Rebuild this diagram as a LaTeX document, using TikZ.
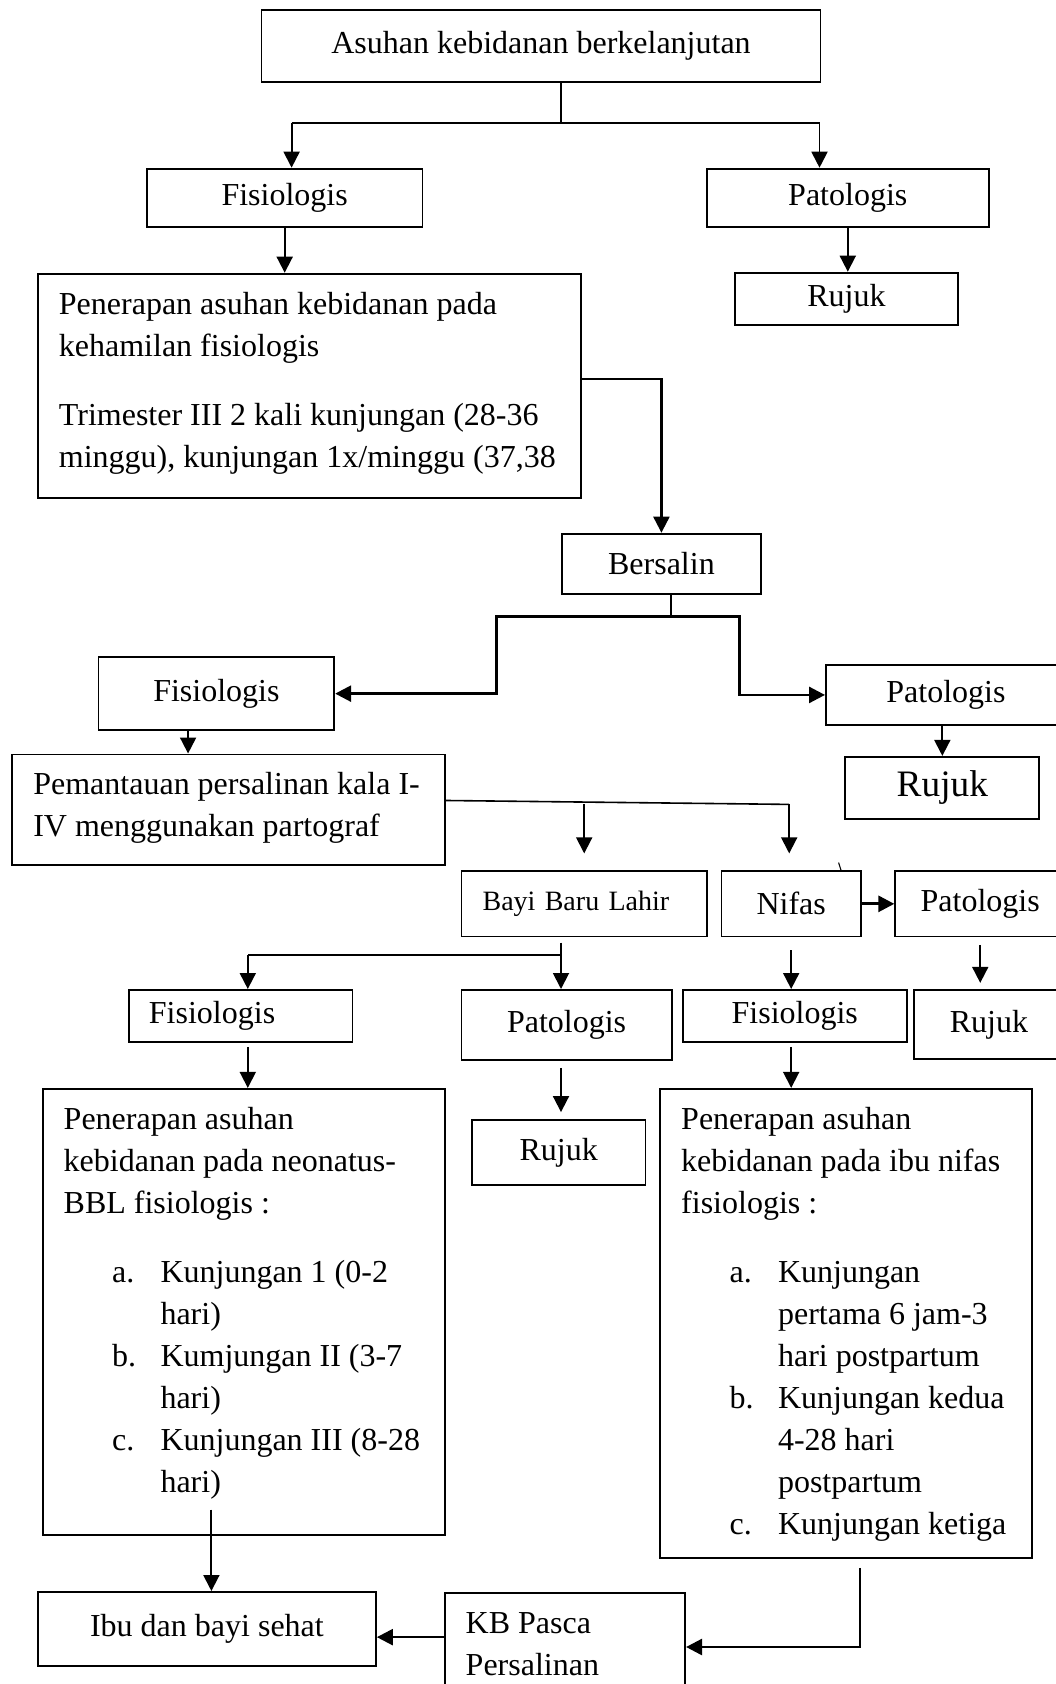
\documentclass[tikz,border=0pt]{standalone}
\usepackage{fontspec}
\setmainfont{Liberation Serif}
\usepackage{tikz}
\usetikzlibrary{
    arrows.meta,
    positioning,
    calc
}
\newlength{\pxu}
\setlength{\pxu}{0.375pt}
\newcommand{\boxbody}[3]{\parbox[c][#1\pxu][t]{#2\pxu}{\raggedright\leftskip=21\pxu\parskip=0pt\vspace*{4.2pt}\strut #3}}
\newcommand{\kitem}[1]{\hspace*{18.15pt}\makebox[18.15pt][l]{#1}}
\newcommand{\kcont}{\hspace*{36.3pt}}
\tikzset{
    sbox/.style={
        rectangle, draw=black, line width=0.7pt, fill=white,
        anchor=north west, inner sep=0pt,
        font=\fontsize{12}{15.7}\selectfont
    },
    bsize/.style 2 args={minimum width=#1*0.375pt, minimum height=#2*0.375pt},
    sline/.style={line width=0.7pt},
    sarr/.style={-{Triangle[length=6pt, width=6pt]}, line width=0.7pt},
}

\begin{document}
\begin{tikzpicture}[x=0.375pt, y=-0.375pt]

    \useasboundingbox (0,0) rectangle (1056,1684);
    \fill [white] (0,0) rectangle (1056,1684);
    \clip (0,0) rectangle (1056,1684);

    % kehamilan
    \node [sbox, bsize={558.9}{71.4}] (top) at (260.6,9.3) {Asuhan kebidanan berkelanjutan};
    \node [sbox, bsize={275.5}{58.3}] (fis1) at (146,167.7) {Fisiologis};
    \node [sbox, bsize={282.3}{58.3}] (pat1) at (705.7,167.7) {Patologis};
    \node [sbox, bsize={223}{52.3}] (rujuk1) at (734,271.7) {Rujuk};
    \node [sbox, bsize={543}{224}] (ptrim) at (37,272.7)
        {\boxbody{224}{543}{Penerapan asuhan kebidanan pada\\kehamilan fisiologis\par\vspace{10.5pt}Trimester III 2 kali kunjungan (28-36\\minggu), kunjungan 1x/minggu (37,38}};

    % persalinan
    \node [sbox, bsize={199}{60.3}] (bersalin) at (561,532.7) {Bersalin};
    \node [sbox, bsize={235.7}{73.4}] (fis2) at (97.6,656) {Fisiologis};
    \node [sbox, bsize={240}{60}] (pat2) at (825,664) {Patologis};
    \node [sbox, bsize={194}{62.3}, font=\fontsize{14}{17}\selectfont] (rujuk2) at (844.4,755.9) {Rujuk};
    \node [sbox, bsize={432.4}{110.9}] (pem) at (11.4,753.5)
        {\boxbody{110.9}{432.4}{Pemantauan persalinan kala I-\\IV menggunakan partograf}};

    % bayi baru lahir dan nifas
    \node [sbox, bsize={245.1}{65.4}, font=\fontsize{10.5}{13}\selectfont,
        inner xsep=7.9pt, text width=76.2pt, align=left] (bbl) at (460.6,870.2) {Bayi Baru Lahir};
    \node [sbox, bsize={139.5}{65.4}] (nifas) at (720.5,870.2) {Nifas};
    \node [sbox, bsize={170}{65.4}] (pat3) at (894.3,870.2) {Patologis};
    \node [sbox, bsize={223.5}{51.7}, inner xsep=7.5pt, text width=68.8pt, align=left] (fis3) at (128,989) {Fisiologis};
    \node [sbox, bsize={210.1}{70}] (pat4) at (460.6,989) {Patologis};
    \node [sbox, bsize={223.7}{51.7}] (fis4) at (682,989) {Fisiologis};
    \node [sbox, bsize={150}{69}] (rujuk3) at (913,989) {Rujuk};
    \node [sbox, bsize={173.5}{65}] (rujuk4) at (471,1119) {Rujuk};
    \node [sbox, bsize={402}{446.4}] (pbbl) at (41.8,1087.9)
        {\boxbody{446.4}{402}{Penerapan asuhan\\kebidanan pada neonatus-\\BBL fisiologis :\par\vspace{10.5pt}\kitem{a.}Kunjungan 1 (0-2\\\kcont hari)\\\kitem{b.}Kumjungan II (3-7\\\kcont hari)\\\kitem{c.}Kunjungan III (8-28\\\kcont hari)}};
    \node [sbox, bsize={371.7}{469.5}] (pnif) at (659.3,1087.9)
        {\boxbody{469.5}{371.7}{Penerapan asuhan\\kebidanan pada ibu nifas\\fisiologis :\par\vspace{10.5pt}\kitem{a.}Kunjungan\\\kcont pertama 6 jam-3\\\kcont hari postpartum\\\kitem{b.}Kunjungan kedua\\\kcont 4-28 hari\\\kcont postpartum\\\kitem{c.}Kunjungan ketiga}};

    % akhir
    \node [sbox, bsize={338}{74}] (ibu) at (37,1591) {Ibu dan bayi sehat};
    \node [sbox, bsize={240.4}{110}] (kb) at (443.8,1592.4)
        {\boxbody{110}{240.4}{KB Pasca\\Persalinan}};

    % cabang atas
    \coordinate (tsplit) at (561,123);
    \coordinate (tleft) at (291.6,123);
    \coordinate (tright) at (819.5,123);
    \draw [sline] (top.south -| tsplit) -- (tsplit);
    \draw [sline] (tleft) -- (tright);
    \draw [sarr] (tleft) -- (tleft |- fis1.north);
    \draw [sarr] (tright) -- (tright |- pat1.north);
    \draw [sarr] (fis1.south) -- (fis1.south |- ptrim.north);
    \draw [sarr] (pat1.south) -- (pat1.south |- rujuk1.north);
    \draw [sarr, line width=0.8pt] ([yshift=2.4pt]ptrim.east) -| (bersalin.north);

    % cabang bersalin
    \coordinate (bsplit) at (670.7,616.4);
    \coordinate (bleft) at (496.3,616.4);
    \coordinate (bright) at (739.4,616.4);
    \draw [sline] (bersalin.south -| bsplit) -- (bsplit);
    \draw [sarr, line width=1pt] (bsplit) -- (bleft) |- (fis2.east);
    \draw [sarr, line width=1pt] (bsplit) -- (bright) |- (pat2.west);
    \draw [sarr] (pat2.south -| rujuk2.north) -- (rujuk2.north);
    \coordinate (fdrop) at ($(fis2.south)+(-28.3,0)$);
    \draw [sarr] (fdrop) -- (fdrop |- pem.north);

    % cabang pemantauan
    \coordinate (pemr) at (789.2,804.4);
    \draw [sline, line width=0.6pt] ($(pem.east)+(0,-9.4)$) -- (pemr);
    \draw [sarr, shorten >=6.3pt] (pemr) -- (pemr |- nifas.north);
    \draw [sarr, shorten >=6.3pt] (bbl.north |- pemr) -- (bbl.north);
    \draw [sline, line width=0.4pt] (838.6,862.6) -- (841.2,870.8);
    \draw [sarr, line width=1.1pt] (nifas.east) -- (pat3.west);

    % cabang bayi baru lahir
    \coordinate (lsplit) at (561,954.6);
    \coordinate (lleft) at (247.8,954.6);
    \draw [sline] (bbl.south -| lsplit) ++(0,5.2) -- (lsplit) -- (lleft);
    \draw [sarr] (lleft) -- (lleft |- fis3.north);
    \draw [sarr] (lsplit) -- (lsplit |- pat4.north);
    \draw [sarr] (nifas.south) ++(0,13) -- (nifas.south |- fis4.north);
    \draw [sarr, shorten >=2.3pt] (pat3.south) ++(0,7.3) -- (pat3.south |- rujuk3.north);
    \draw [sarr] (lleft |- fis3.south) ++(0,4.3) -- (lleft |- pbbl.north);
    \draw [sarr, shorten >=2.6pt] (lsplit |- pat4.south) ++(0,7) -- (lsplit |- rujuk4.north);
    \draw [sarr] (nifas.south |- fis4.south) ++(0,4.3) -- (nifas.south |- pnif.north);

    % ke ibu dan bayi sehat
    \coordinate (pdrop) at (211.4,1509.7);
    \draw [sarr] (pdrop) -- (pdrop |- ibu.north);
    \coordinate (nturn) at (860,1647);
    \draw [sarr, line width=1pt] (nturn |- pnif.south) ++(0,8.6) -- (nturn) -- (nturn -| kb.east);
    \coordinate (kbl) at ($(kb.west)+(0,-11.2)$);
    \draw [sarr, line width=0.9pt] (kbl) -- (kbl -| ibu.east);

\end{tikzpicture}
\end{document}
